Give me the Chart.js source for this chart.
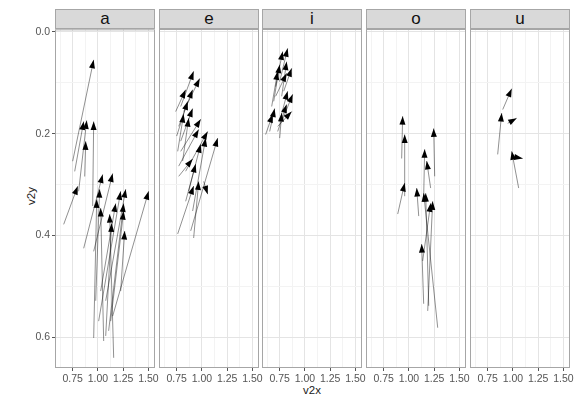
<!DOCTYPE html>
<html>
<head>
<meta charset="utf-8">
<script src="https://cdn.jsdelivr.net/npm/chart.js"></script>
<style>
  body { margin: 0; background: #fff; }
  #wrap { position: relative; width: 574px; height: 398px; overflow: hidden; font-family: 'Liberation Sans', Arial, sans-serif; }
  #wrap canvas { position: absolute; }
  .strip {
    position: absolute; top: 9px; height: 20px; box-sizing: border-box;
    background: #d9d9d9; border: 1px solid #a6a6a6;
    text-align: center; font-size: 17px; line-height: 17px; color: #111;
  }
  .title { position: absolute; font-size: 11.5px; color: #1a1a1a; }
</style>
</head>
<body>
<div id="wrap">
  <div class="title" style="left:294px; top:384px; width:36px; text-align:center;">v2x</div>
  <div class="title" style="left:13px; top:190px; width:36px; text-align:center; transform: rotate(-90deg);">v2y</div>
</div>
<script>
// facets
const vowels = ['a', 'e', 'i', 'o', 'u'];

// arrow tails (start) and heads (end), one sub-array per vowel
const xStart = [
  [0.750, 0.770, 0.809, 0.948, 0.869, 0.661, 0.859, 0.958, 0.978, 0.958, 1.057, 1.007, 1.077, 1.027, 1.106, 1.156, 1.077, 1.126, 1.146, 1.225],
  [0.790, 0.819, 0.740, 0.770, 0.750, 0.790, 0.760, 0.809, 0.790, 0.770, 0.839, 0.889, 0.908, 0.869, 0.770, 0.839, 0.760, 0.918, 1.017],
  [0.750, 0.710, 0.770, 0.691, 0.790, 0.710, 0.671, 0.750, 0.780, 0.730, 0.651, 0.730, 0.611, 0.750],
  [0.928, 0.958, 1.255, 1.146, 1.215, 0.889, 1.097, 1.146, 1.285, 1.196, 1.186, 1.136],
  [0.849, 0.899, 0.948, 1.057, 0.988]
];
const yStart = [
  [0.254, 0.274, 0.313, 0.342, 0.284, 0.378, 0.425, 0.431, 0.528, 0.601, 0.607, 0.568, 0.528, 0.509, 0.587, 0.640, 0.597, 0.568, 0.558, 0.509],
  [0.147, 0.157, 0.157, 0.186, 0.205, 0.215, 0.235, 0.254, 0.235, 0.264, 0.274, 0.391, 0.352, 0.313, 0.284, 0.333, 0.397, 0.405, 0.294],
  [0.098, 0.108, 0.127, 0.137, 0.117, 0.127, 0.147, 0.176, 0.172, 0.196, 0.196, 0.186, 0.202, 0.209],
  [0.249, 0.323, 0.284, 0.323, 0.307, 0.358, 0.362, 0.534, 0.581, 0.538, 0.548, 0.450],
  [0.241, 0.153, 0.180, 0.307, 0.245]
];
const xEnd = [
  [0.958, 0.859, 0.889, 0.958, 0.879, 0.800, 1.047, 1.146, 1.017, 0.988, 1.027, 1.225, 1.275, 1.176, 1.255, 1.116, 1.136, 1.255, 1.502, 1.265],
  [0.918, 0.978, 0.839, 0.908, 0.859, 0.908, 0.819, 0.869, 0.988, 0.968, 1.057, 1.156, 1.037, 0.988, 0.908, 0.938, 0.918, 0.968, 1.057],
  [0.829, 0.780, 0.819, 0.750, 0.869, 0.819, 0.730, 0.829, 0.879, 0.819, 0.700, 0.869, 0.681, 0.770],
  [0.938, 0.958, 1.245, 1.156, 1.176, 0.958, 1.077, 1.126, 1.146, 1.166, 1.235, 1.215],
  [0.889, 0.988, 1.037, 0.988, 1.097]
];
const yEnd = [
  [0.055, 0.176, 0.174, 0.176, 0.215, 0.303, 0.280, 0.278, 0.309, 0.329, 0.346, 0.313, 0.309, 0.337, 0.337, 0.358, 0.376, 0.352, 0.313, 0.391],
  [0.078, 0.092, 0.114, 0.114, 0.137, 0.151, 0.162, 0.170, 0.172, 0.192, 0.196, 0.209, 0.209, 0.221, 0.250, 0.260, 0.303, 0.294, 0.319],
  [0.033, 0.039, 0.059, 0.065, 0.072, 0.082, 0.078, 0.117, 0.123, 0.143, 0.151, 0.157, 0.162, 0.160],
  [0.166, 0.202, 0.190, 0.231, 0.254, 0.297, 0.307, 0.417, 0.317, 0.317, 0.333, 0.337],
  [0.160, 0.112, 0.170, 0.235, 0.249]
];

// axes
const xTicks = [0.75, 1.0, 1.25, 1.5];
const xTickLabels = ['0.75', '1.00', '1.25', '1.50'];
const xMinor = [0.625, 0.875, 1.125, 1.375];
const yTicks = [0, 0.2, 0.4, 0.6];
const yTickLabels = ['0.0', '0.2', '0.4', '0.6'];
const yMinor = [0.1, 0.3, 0.5];

const FONT = "'Liberation Sans', Arial, sans-serif";
const plotTop = 29, plotH = 339, plotW = 100, padT = 8, padR = 12, axisH = 22;

const findLabel = (v, ticks, labels) => {
  const i = ticks.findIndex(t => Math.abs(t - v) < 1e-9);
  return i < 0 ? '' : labels[i];
};
const isMajor = (c, ticks) => c.tick && ticks.some(t => Math.abs(t - c.tick.value) < 1e-9);

// filled arrow heads at the end point of each segment
const arrowHeads = {
  id: 'arrowHeads',
  afterDatasetsDraw(chart) {
    const ctx = chart.ctx;
    const len = 9, half = 0.34;
    ctx.save();
    ctx.fillStyle = '#000';
    chart.data.datasets.forEach((ds, i) => {
      const [a, b] = chart.getDatasetMeta(i).data;
      const ang = Math.atan2(b.y - a.y, b.x - a.x);
      ctx.beginPath();
      ctx.moveTo(b.x, b.y);
      ctx.lineTo(b.x - len * Math.cos(ang - half), b.y - len * Math.sin(ang - half));
      ctx.lineTo(b.x - len * Math.cos(ang + half), b.y - len * Math.sin(ang + half));
      ctx.closePath();
      ctx.fill();
    });
    ctx.restore();
  }
};

const panelBorder = {
  id: 'panelBorder',
  afterDraw(chart) {
    const { ctx, chartArea: a } = chart;
    ctx.save();
    ctx.strokeStyle = '#a6a6a6';
    ctx.lineWidth = 1;
    ctx.strokeRect(a.left + 0.5, a.top + 0.5, a.width - 1, a.height - 1);
    ctx.restore();
  }
};

const wrap = document.getElementById('wrap');

vowels.forEach((v, k) => {
  const left = Math.round(55 + k * 103.7);
  const first = k === 0;

  const strip = document.createElement('div');
  strip.className = 'strip';
  strip.style.left = left + 'px';
  strip.style.width = plotW + 'px';
  strip.textContent = v;
  wrap.appendChild(strip);

  const padL = first ? 40 : 12;
  const canvas = document.createElement('canvas');
  canvas.width = padL + plotW + padR;
  canvas.height = padT + plotH + axisH;
  canvas.style.left = (left - padL) + 'px';
  canvas.style.top = (plotTop - padT) + 'px';
  wrap.appendChild(canvas);

  const datasets = xStart[k].map((x0, i) => ({
    data: [{ x: x0, y: yStart[k][i] }, { x: xEnd[k][i], y: yEnd[k][i] }],
    showLine: true,
    borderColor: 'rgba(0,0,0,0.55)',
    borderWidth: 0.8,
    pointRadius: 0
  }));

  new Chart(canvas, {
    type: 'scatter',
    data: { datasets },
    plugins: [arrowHeads, panelBorder],
    options: {
      responsive: false,
      animation: false,
      devicePixelRatio: 1,
      layout: { padding: { left: first ? 0 : padL, right: padR, top: padT, bottom: 0 } },
      plugins: { legend: { display: false }, tooltip: { enabled: false } },
      scales: {
        x: {
          type: 'linear',
          min: 0.575,
          max: 1.565,
          afterBuildTicks: s => { s.ticks = xMinor.concat(xTicks).sort((p, q) => p - q).map(value => ({ value })); },
          afterFit: s => { s.height = axisH; },
          border: { display: false },
          grid: {
            color: c => isMajor(c, xTicks) ? '#e4e4e4' : '#f3f3f3',
            tickColor: c => isMajor(c, xTicks) ? '#555' : 'rgba(0,0,0,0)',
            tickLength: 3
          },
          ticks: {
            autoSkip: false,
            maxRotation: 0,
            padding: 2,
            color: '#555',
            font: { family: FONT, size: 10.5 },
            callback: val => findLabel(val, xTicks, xTickLabels)
          }
        },
        y: {
          type: 'linear',
          reverse: true,
          min: -0.005,
          max: 0.66,
          afterBuildTicks: s => { s.ticks = yMinor.concat(yTicks).sort((p, q) => p - q).map(value => ({ value })); },
          afterFit: s => { s.width = first ? 40 : 0; },
          border: { display: false },
          grid: {
            color: c => isMajor(c, yTicks) ? '#e4e4e4' : '#f3f3f3',
            tickColor: c => isMajor(c, yTicks) ? '#555' : 'rgba(0,0,0,0)',
            tickLength: 3,
            drawTicks: first
          },
          ticks: {
            display: first,
            autoSkip: false,
            padding: 2,
            color: '#555',
            font: { family: FONT, size: 10.5 },
            callback: val => findLabel(val, yTicks, yTickLabels)
          }
        }
      }
    }
  });
});
</script>
</body>
</html>
